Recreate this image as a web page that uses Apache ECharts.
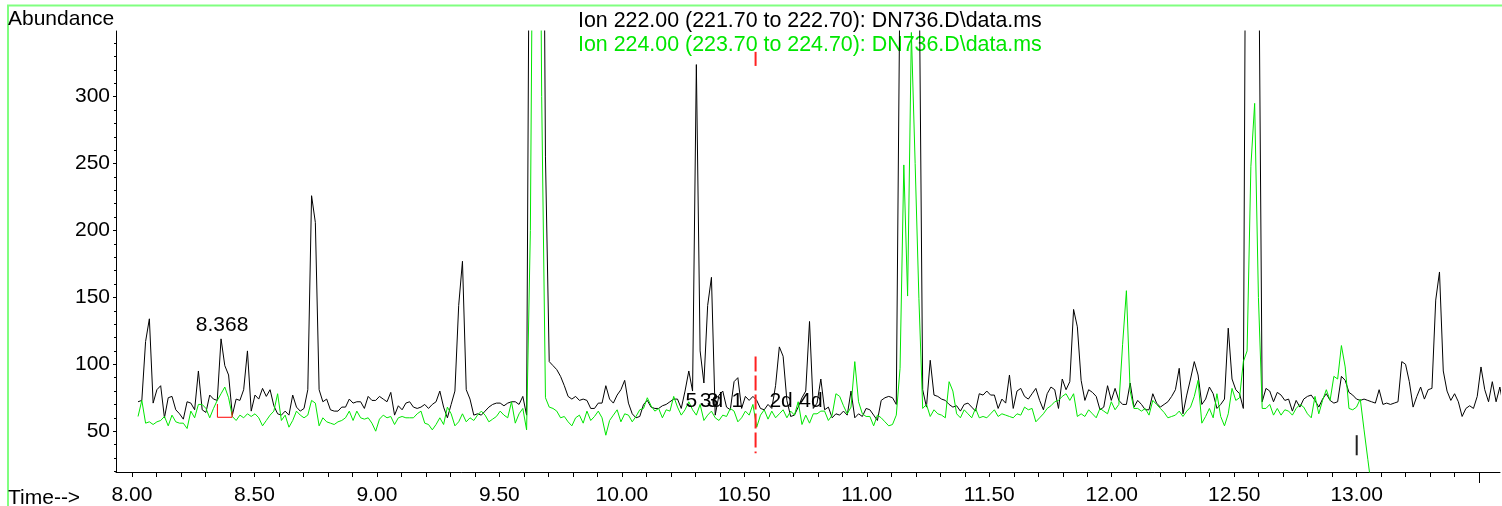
<!DOCTYPE html>
<html>
<head>
<meta charset="utf-8">
<title>Ion 222 / 224 - DN736.D</title>
<script src="https://cdn.jsdelivr.net/npm/echarts@6.0.0/dist/echarts.min.js"></script>
<style>
    html, body { margin: 0; padding: 0; background: #fff; }
    #chart { width: 1502px; height: 506px; }
</style>
</head>
<body>
<div id="chart"></div>
<script>
// 扫描起点和间隔 (min)
var scanStart = 8.025;
var scanStep = 0.0154;

// Ion 222.00 丰度 (黑线)
var ion222 = [
    72, 73, 117, 134, 71, 81, 84, 60, 75, 76,
    66, 63, 59, 72, 71, 66, 95, 66, 64, 77,
    74, 73, 119, 99, 92, 62, 74, 73, 81, 110,
    65, 77, 74, 82, 76, 81, 69, 63, 62, 65,
    62, 77, 68, 65, 67, 81, 226, 206, 81, 72,
    74, 66, 65, 65, 68, 68, 74, 71, 72, 72,
    67, 76, 73, 73, 76, 74, 72, 79, 62, 69,
    66, 71, 72, 68, 67, 68, 70, 67, 70, 72,
    80, 68, 60, 70, 80, 144, 177, 81, 74, 62,
    63, 62, 65, 68, 70, 71, 71, 69, 71, 72,
    72, 70, 76, 62, 600, 900, 900, 700, 255, 102,
    99, 96, 91, 84, 76, 74, 76, 73, 74, 73,
    67, 67, 71, 71, 84, 74, 71, 77, 81, 88,
    71, 63, 60, 61, 70, 73, 68, 67, 67, 69,
    70, 72, 74, 74, 67, 80, 95, 80, 324, 110,
    86, 144, 165, 62, 77, 80, 68, 66, 87, 90,
    67, 76, 73, 76, 73, 67, 66, 70, 67, 84,
    113, 106, 73, 61, 62, 68, 75, 80, 132, 67,
    71, 89, 66, 68, 60, 63, 62, 65, 62, 80,
    60, 63, 61, 67, 66, 62, 58, 73, 75, 76,
    75, 70, 400, 700, 900, 900, 500, 420, 81, 68,
    103, 77, 76, 74, 73, 70, 68, 69, 65, 70,
    71, 68, 65, 78, 77, 80, 77, 77, 67, 74,
    71, 92, 67, 80, 82, 76, 74, 78, 82, 73,
    66, 78, 83, 81, 67, 89, 81, 87, 141, 128,
    88, 73, 81, 79, 76, 66, 68, 84, 73, 82,
    73, 70, 70, 86, 68, 73, 70, 66, 66, 78,
    71, 68, 70, 72, 76, 81, 97, 63, 77, 89,
    102, 92, 70, 74, 83, 78, 67, 70, 74, 127,
    89, 81, 78, 67, 700, 900, 900, 450, 72, 82,
    80, 72, 79, 77, 73, 74, 65, 73, 68, 74,
    76, 77, 73, 68, 74, 78, 73, 71, 72, 91,
    88, 79, 77, 74, 73, 74, 73, 72, 71, 81,
    70, 71, 70, 71, 72, 102, 100, 87, 68, 76,
    83, 74, 81, 82, 148, 169, 95, 80, 73, 78,
    72, 61, 67, 69, 67, 76, 98, 81, 72, 87,
    72, 83, 68
];

// Ion 224.00 丰度 (绿线)
var ion224 = [
    61, 73, 56, 57, 55, 57, 58, 61, 54, 62,
    57, 56, 56, 52, 65, 60, 70, 70, 67, 60,
    67, 73, 78, 83, 75, 61, 58, 62, 60, 63,
    61, 63, 60, 54, 58, 62, 65, 78, 58, 62,
    53, 58, 65, 62, 60, 62, 73, 71, 54, 60,
    57, 56, 55, 57, 58, 60, 65, 58, 65, 60,
    59, 60, 56, 50, 59, 62, 60, 61, 55, 60,
    61, 60, 60, 60, 63, 65, 56, 55, 51, 55,
    60, 55, 68, 63, 54, 57, 63, 57, 60, 58,
    62, 65, 62, 57, 59, 61, 65, 62, 60, 72,
    56, 63, 67, 51, 200, 600, 700, 300, 75, 68,
    67, 65, 60, 61, 57, 54, 60, 62, 56, 65,
    58, 61, 65, 60, 47, 58, 62, 66, 57, 63,
    62, 57, 61, 66, 67, 75, 69, 65, 67, 60,
    66, 65, 76, 68, 62, 66, 72, 66, 62, 70,
    58, 62, 65, 60, 58, 62, 61, 67, 65, 57,
    60, 65, 62, 70, 53, 62, 66, 59, 65, 60,
    63, 66, 60, 65, 62, 72, 55, 62, 56, 63,
    63, 65, 65, 58, 62, 78, 76, 69, 63, 68,
    102, 72, 63, 61, 61, 54, 62, 60, 57, 54,
    55, 62, 97, 249, 151, 348, 250, 149, 67, 70,
    61, 66, 63, 62, 60, 87, 80, 63, 60, 66,
    63, 60, 67, 60, 61, 60, 63, 66, 61, 63,
    62, 61, 60, 63, 62, 68, 66, 67, 57, 60,
    63, 67, 69, 72, 73, 76, 78, 73, 78, 61,
    63, 61, 66, 63, 60, 67, 65, 63, 72, 66,
    70, 115, 155, 80, 67, 67, 65, 67, 62, 73,
    70, 67, 64, 60, 61, 62, 65, 61, 65, 68,
    76, 88, 56, 61, 67, 60, 78, 61, 54, 63,
    82, 73, 75, 102, 110, 248, 295, 150, 67, 67,
    70, 62, 67, 62, 66, 65, 62, 67, 70, 68,
    63, 60, 76, 63, 73, 81, 73, 91, 89, 114,
    98, 67, 66, 68, 74, 51, 29, 7
];

// 坐标轴刻度
var timeLabels = [8.0, 8.5, 9.0, 9.5, 10.0, 10.5, 11.0, 11.5, 12.0, 12.5, 13.0];
var abundanceLabels = [50, 100, 150, 200, 250, 300];

// 8.368 积分
var peakTime = 8.368;
var peakTop = 119;
var integBase = [[8.349, 70.3], [8.349, 60.4], [8.409, 60.4], [8.409, 64.6]];

// 化合物标记
var peakNames = ['5', '3d', '3', '1', '2d', '4d'];
var peakNameTimes = [10.284, 10.366, 10.370, 10.472, 10.650, 10.772];
var peakNameLevel = 72.7;

// 红色光标和 13.00 小刻度
var cursorTime = 10.546;
var cursorSpan = [105.8, 33.6];
var cursorTop = [333.5, 323];
var markTime = 13.0;
var markSpan = [47, 32];

var FONT = '"Liberation Sans", Arial, sans-serif';
var GREEN = '#00e600';

function toPairs(values) {
    var out = [];
    for (var i = 0; i < values.length; i++) {
        out.push([scanStart + i * scanStep, values[i]]);
    }
    return out;
}

function refreshChart() {
    var e = echarts.init(document.getElementById('chart'));

    // 0.1 间隔的刻度
    var timeTicks = [];
    for (var k = 0; k <= 55; k++) {
        timeTicks.push(+(8 + k * 0.1).toFixed(1));
    }
    var abundanceTicks = [];
    for (var a = 20; a <= 340; a += 10) {
        abundanceTicks.push(a);
    }

    var nameData = [];
    for (var n = 0; n < peakNames.length; n++) {
        nameData.push({ value: [peakNameTimes[n], peakNameLevel], name: peakNames[n] });
    }

    var xMin = 7.935, xMax = 13.585;
    var yMin = 19.5, yMax = 349.1;

    var option = {
        animation: false,
        grid: { left: 116, right: 2, top: 31, bottom: 32 },
        xAxis: [{
            type: 'value',
            min: xMin,
            max: xMax,
            axisLine: { lineStyle: { color: '#000', width: 1 } },
            axisTick: { customValues: timeTicks, length: 5, lineStyle: { color: '#000' } },
            axisLabel: {
                customValues: timeLabels,
                formatter: function(v) { return v.toFixed(2); },
                color: '#000',
                fontSize: 21,
                fontFamily: FONT,
                margin: 13
            },
            splitLine: { show: false }
        }, {
            // 13.50 长刻度
            type: 'value',
            min: xMin,
            max: xMax,
            position: 'bottom',
            axisLine: { show: false },
            axisTick: { customValues: [13.5], length: 11, lineStyle: { color: '#000' } },
            axisLabel: { show: false },
            splitLine: { show: false }
        }],
        yAxis: [{
            type: 'value',
            min: yMin,
            max: yMax,
            axisLine: { show: true, lineStyle: { color: '#000', width: 1 } },
            axisTick: { show: true, customValues: abundanceLabels, length: 3, lineStyle: { color: '#000' } },
            axisLabel: {
                customValues: abundanceLabels,
                color: '#000',
                fontSize: 21,
                fontFamily: FONT,
                margin: 6
            },
            splitLine: { show: false }
        }, {
            type: 'value',
            min: yMin,
            max: yMax,
            position: 'left',
            axisLine: { show: false },
            axisTick: { show: true, customValues: abundanceTicks, length: 2, lineStyle: { color: '#000' } },
            axisLabel: { show: false },
            splitLine: { show: false }
        }],
        series: [{
            name: 'Ion 222.00',
            type: 'line',
            data: toPairs(ion222),
            showSymbol: false,
            lineStyle: { color: '#000', width: 1 },
            z: 2
        }, {
            name: 'Ion 224.00',
            type: 'line',
            data: toPairs(ion224),
            showSymbol: false,
            lineStyle: { color: GREEN, width: 1 },
            z: 3
        }, {
            // 积分基线
            type: 'line',
            data: integBase,
            showSymbol: false,
            lineStyle: { color: '#ff0000', width: 1 },
            z: 4
        }, {
            type: 'line',
            data: [[cursorTime, cursorSpan[0]], [cursorTime, cursorSpan[1]]],
            showSymbol: false,
            lineStyle: { color: '#ff2020', width: 2, type: [15, 4] },
            z: 4
        }, {
            type: 'line',
            data: [[cursorTime, cursorTop[0]], [cursorTime, cursorTop[1]]],
            showSymbol: false,
            lineStyle: { color: '#ff2020', width: 2 },
            z: 4
        }, {
            type: 'line',
            data: [[markTime, markSpan[0]], [markTime, markSpan[1]]],
            showSymbol: false,
            lineStyle: { color: '#222', width: 2 },
            z: 4
        }, {
            // 峰顶时间标签
            type: 'scatter',
            data: [[peakTime, peakTop]],
            symbolSize: 0,
            itemStyle: { opacity: 1 },
            label: {
                show: true,
                position: 'top',
                distance: 3,
                formatter: function() { return peakTime.toFixed(3); },
                color: '#000',
                opacity: 1,
                fontSize: 21,
                fontFamily: FONT
            },
            z: 5
        }, {
            type: 'scatter',
            data: nameData,
            symbolSize: 0,
            itemStyle: { opacity: 1 },
            label: {
                show: true,
                position: 'inside',
                formatter: '{b}',
                color: '#000',
                opacity: 1,
                fontSize: 21,
                fontFamily: FONT
            },
            z: 5
        }],
        graphic: [{
            type: 'rect',
            shape: { x: 8, y: 5.5, width: 1600, height: 600 },
            style: { fill: 'none', stroke: '#80ff80', lineWidth: 2 },
            silent: true
        }, {
            type: 'text',
            x: 8,
            y: 19,
            style: { text: 'Abundance', fill: '#000', font: '21px ' + FONT, textVerticalAlign: 'middle' }
        }, {
            type: 'text',
            x: 8,
            y: 498,
            style: { text: 'Time-->', fill: '#000', font: '21px ' + FONT, textVerticalAlign: 'middle' }
        }, {
            type: 'text',
            x: 578,
            y: 21,
            style: { text: 'Ion 222.00 (221.70 to 222.70): DN736.D\\data.ms', fill: '#000', font: '21.4px ' + FONT, textVerticalAlign: 'middle' }
        }, {
            type: 'text',
            x: 578,
            y: 45,
            style: { text: 'Ion 224.00 (223.70 to 224.70): DN736.D\\data.ms', fill: GREEN, font: '21.4px ' + FONT, textVerticalAlign: 'middle' }
        }]
    };

    e.setOption(option);
    window.addEventListener('resize', function() { e.resize(); });
}

refreshChart();
</script>
</body>
</html>
